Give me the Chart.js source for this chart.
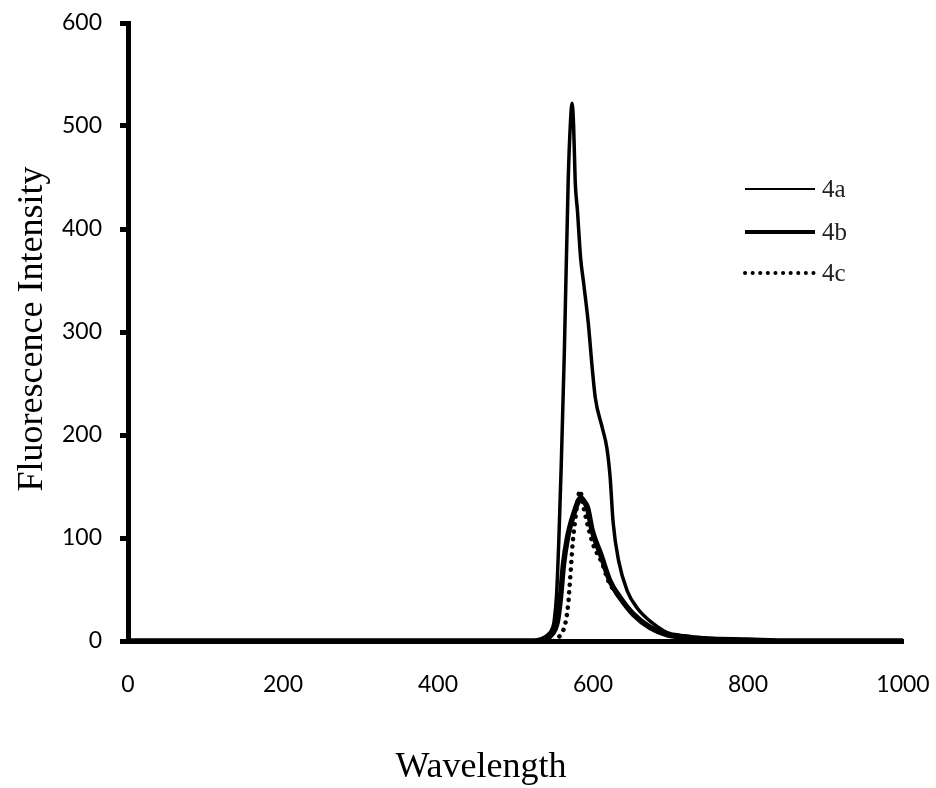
<!DOCTYPE html>
<html>
<head>
<meta charset="utf-8">
<script src="https://cdn.jsdelivr.net/npm/chart.js@4.4.0/dist/chart.umd.min.js"></script>
<style>
  html, body { margin: 0; padding: 0; background: #fff; }
  canvas { display: block; }
</style>
</head>
<body>
<canvas id="spectrum" width="936" height="788"></canvas>
<script>
// emission spectra, wavelength (nm) vs fluorescence intensity
const wl4a = [0, 520, 532, 540, 548, 550, 553, 556, 559, 563, 568, 571, 573, 575, 577, 580, 584, 588, 594, 599, 603, 612, 618, 622, 626, 633, 644, 657, 674, 691, 700, 709, 718, 729, 764, 816, 870, 1000];
const fi4a = [0, 0, 2, 5, 13, 20, 45, 100, 170, 280, 447, 505, 522, 500, 447, 417, 372, 347, 308, 265, 236, 207, 187, 160, 115, 78, 49, 32, 19, 10, 7, 6, 5, 4, 2, 1, 0, 0];

const wl4b = [0, 525, 536, 545, 554, 558, 562, 567, 571, 575, 580, 584, 588, 593, 599, 610, 622, 635, 652, 674, 696, 713, 747, 800, 850, 1000];
const fi4b = [0, 0, 1, 5, 19, 42, 75, 100, 113, 123, 134, 139, 136, 129, 107, 84, 58, 42, 26, 13, 6, 4, 2, 1, 0, 0];

const wl4c = [0, 548, 552, 558, 564, 568, 570, 572, 574, 577, 580, 583, 588, 594, 600, 612, 620, 635, 652, 674, 696, 713, 747, 800, 850, 1000];
const fi4c = [0, 0, 1, 6, 16, 36, 55, 76, 97, 117, 135, 146, 129, 110, 94, 75, 58, 42, 26, 13, 6, 4, 2, 1, 0, 0];

const seriesNames = ['4a', '4b', '4c'];
const xTitle = 'Wavelength';
const yTitle = 'Fluorescence Intensity';

function toPoints(xs, ys) {
  return xs.map((x, i) => ({ x: x, y: ys[i] }));
}

// axis titles sit off-centre, so they are painted by hand
const axisTitles = {
  id: 'axisTitles',
  afterDraw(chart) {
    const c = chart.ctx;
    c.save();
    c.fillStyle = '#000';
    c.font = '36px "Liberation Serif"';
    c.textAlign = 'center';
    c.textBaseline = 'alphabetic';
    c.fillText(xTitle, 481, 777);
    c.translate(42, 329);
    c.rotate(-Math.PI / 2);
    c.fillText(yTitle, 0, 0);
    c.restore();
  }
};

// small legend inside the plot, top right
const legendBox = {
  id: 'legendBox',
  afterDraw(chart) {
    const c = chart.ctx;
    const rows = [189, 232, 273];
    const widths = [2, 4, 4];
    c.save();
    chart.data.datasets.forEach((ds, i) => {
      const y = rows[i];
      c.beginPath();
      c.strokeStyle = ds.borderColor;
      c.lineWidth = widths[i];
      c.lineCap = ds.borderCapStyle || 'butt';
      c.setLineDash(ds.borderDash || []);
      c.moveTo(745, y);
      c.lineTo(815, y);
      c.stroke();
      c.setLineDash([]);
      c.fillStyle = '#222';
      c.font = '25px "Liberation Serif"';
      c.textAlign = 'left';
      c.textBaseline = 'middle';
      c.fillText(ds.label, 822, y + 1);
    });
    c.restore();
  }
};

const tickFont = { family: 'Lato', size: 23 };
const plainNumber = (v) => String(v);

new Chart(document.getElementById('spectrum').getContext('2d'), {
  type: 'line',
  data: {
    datasets: [
      {
        label: seriesNames[0],
        data: toPoints(wl4a, fi4a),
        borderColor: '#000',
        borderWidth: 3.5,
        pointRadius: 0,
        cubicInterpolationMode: 'monotone'
      },
      {
        label: seriesNames[1],
        data: toPoints(wl4b, fi4b),
        borderColor: '#000',
        borderWidth: 5.5,
        pointRadius: 0,
        cubicInterpolationMode: 'monotone'
      },
      {
        label: seriesNames[2],
        data: toPoints(wl4c, fi4c),
        borderColor: '#000',
        borderWidth: 4.5,
        borderDash: [0.1, 7.5],
        borderCapStyle: 'round',
        pointRadius: 0,
        cubicInterpolationMode: 'monotone'
      }
    ]
  },
  options: {
    responsive: false,
    animation: false,
    layout: { padding: { top: 23, right: 33, left: 0, bottom: 0 } },
    plugins: {
      legend: { display: false },
      tooltip: { enabled: false }
    },
    scales: {
      x: {
        type: 'linear',
        min: 0,
        max: 1000,
        ticks: { stepSize: 200, color: '#000', font: tickFont, padding: 22, maxRotation: 0, callback: plainNumber },
        grid: { display: false },
        border: { color: '#000', width: 5 },
        afterFit: (s) => { s.height = 147; s.paddingLeft = 0; s.paddingRight = 0; }
      },
      y: {
        min: 0,
        max: 600,
        ticks: { stepSize: 100, color: '#000', font: tickFont, padding: 18, callback: plainNumber },
        grid: { drawOnChartArea: false, drawTicks: true, tickLength: 8, tickWidth: 5, tickColor: '#000' },
        border: { color: '#000', width: 5 },
        afterFit: (s) => { s.width = 128; s.paddingTop = 0; s.paddingBottom = 0; }
      }
    }
  },
  plugins: [axisTitles, legendBox]
});
</script>
</body>
</html>
